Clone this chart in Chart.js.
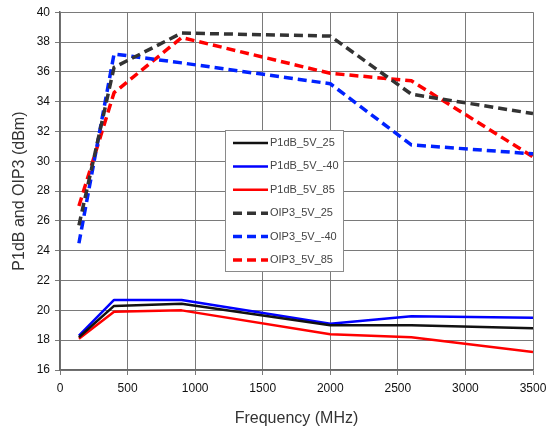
<!DOCTYPE html>
<html>
<head>
<meta charset="utf-8">
<script src="https://cdn.jsdelivr.net/npm/chart.js@4.4.1/dist/chart.umd.min.js"></script>
<style>
  html, body { margin: 0; padding: 0; background: #fff; }
  #wrap { width: 548px; height: 433px; }
</style>
</head>
<body>
<div id="wrap"><canvas id="myChart" width="548" height="433"></canvas></div>
<script>
// frequency points (MHz)
var freq = [140, 400, 900, 2000, 2600, 3500]

// series values (dBm)
var p1dB_25 = [18.2, 20.3, 20.45, 19.0, 19.0, 18.8]
var p1dB_m40 = [18.3, 20.7, 20.7, 19.1, 19.6, 19.5]
var p1dB_85 = [18.1, 19.9, 20.0, 18.4, 18.2, 17.2]
var oip3_25 = [25.7, 36.3, 38.6, 38.4, 34.5, 33.2]
var oip3_m40 = [24.5, 37.2, 36.6, 35.2, 31.1, 30.5]
var oip3_85 = [27.0, 34.6, 38.3, 35.9, 35.4, 30.3]

var seriesNames = ['P1dB_5V_25', 'P1dB_5V_-40', 'P1dB_5V_85', 'OIP3_5V_25', 'OIP3_5V_-40', 'OIP3_5V_85']

var xMin = 0, xMax = 3500, xStep = 500
var yMin = 16, yMax = 40, yStep = 2

function pts(ys) {
    var out = []
    for (var i = 0; i < freq.length; i++) {
        out.push({ x: freq[i], y: ys[i] })
    }
    return out
}

function ds(name, ys, color, dashed) {
    return {
        label: name,
        data: pts(ys),
        borderColor: color,
        backgroundColor: color,
        borderWidth: dashed ? 3.5 : 2.5,
        borderDash: dashed ? [9, 5] : [],
        pointRadius: 0,
        tension: 0,
        borderJoinStyle: 'round',
        fill: false
    }
}

// legend drawn inside the plot, like the original
var boxLegend = {
    id: 'boxLegend',
    afterDraw: function (chart) {
        var c = chart.ctx
        var x0 = 225, y0 = 130, w = 118, h = 141
        c.save()
        c.fillStyle = '#ffffff'
        c.fillRect(x0, y0, w, h)
        c.strokeStyle = '#8a8a8a'
        c.lineWidth = 1
        c.strokeRect(x0 + 0.5, y0 + 0.5, w, h)
        c.font = '11px "Liberation Sans", Arial, sans-serif'
        c.textBaseline = 'middle'
        chart.data.datasets.forEach(function (d, i) {
            var yy = y0 + 13 + i * 23.4
            c.strokeStyle = d.borderColor
            c.lineWidth = d.borderWidth
            c.setLineDash(d.borderDash)
            c.beginPath()
            c.moveTo(x0 + 8, yy)
            c.lineTo(x0 + 43, yy)
            c.stroke()
            c.setLineDash([])
            c.fillStyle = '#444'
            c.fillText(d.label, x0 + 45, yy)
        })
        c.restore()
    }
}

function Graphic() {
    var ctx = document.getElementById('myChart')
    new Chart(ctx, {
        type: 'line',
        data: {
            datasets: [
                ds(seriesNames[0], p1dB_25, '#111111', false),
                ds(seriesNames[1], p1dB_m40, '#0000ff', false),
                ds(seriesNames[2], p1dB_85, '#ff0000', false),
                ds(seriesNames[3], oip3_25, '#333333', true),
                ds(seriesNames[4], oip3_m40, '#0022ff', true),
                ds(seriesNames[5], oip3_85, '#ff0000', true)
            ]
        },
        options: {
            responsive: false,
            animation: false,
            events: [],
            layout: { padding: { top: 6, right: 15, left: 0, bottom: 0 } },
            plugins: { legend: { display: false }, tooltip: { enabled: false } },
            scales: {
                x: {
                    type: 'linear',
                    min: xMin, max: xMax,
                    afterFit: function (s) { s.height = 63; s.paddingRight = 0 },
                    ticks: {
                        stepSize: xStep,
                        color: '#111',
                        padding: 6,
                        maxRotation: 0,
                        callback: function (v) { return String(v) },
                        font: { family: '"Liberation Sans", Arial, sans-serif', size: 12 }
                    },
                    grid: { color: '#7a7a7a', lineWidth: 1, tickLength: 5 },
                    border: { color: '#666', width: 1.5 },
                    title: {
                        display: true,
                        text: 'Frequency (MHz)',
                        color: '#333',
                        padding: { top: 4, bottom: 5 },
                        font: { family: '"Liberation Sans", Arial, sans-serif', size: 16 }
                    }
                },
                y: {
                    min: yMin, max: yMax,
                    afterFit: function (s) { s.width = 60 },
                    ticks: {
                        stepSize: yStep,
                        color: '#111',
                        padding: 5,
                        font: { family: '"Liberation Sans", Arial, sans-serif', size: 12 }
                    },
                    grid: { color: '#7a7a7a', lineWidth: 1, tickLength: 5 },
                    border: { color: '#666', width: 1.5 },
                    title: {
                        display: true,
                        text: 'P1dB and OIP3 (dBm)',
                        color: '#333',
                        padding: { top: 10, bottom: 4 },
                        font: { family: '"Liberation Sans", Arial, sans-serif', size: 16 }
                    }
                }
            }
        },
        plugins: [boxLegend]
    })
}

window.addEventListener('load', Graphic)
</script>
</body>
</html>
